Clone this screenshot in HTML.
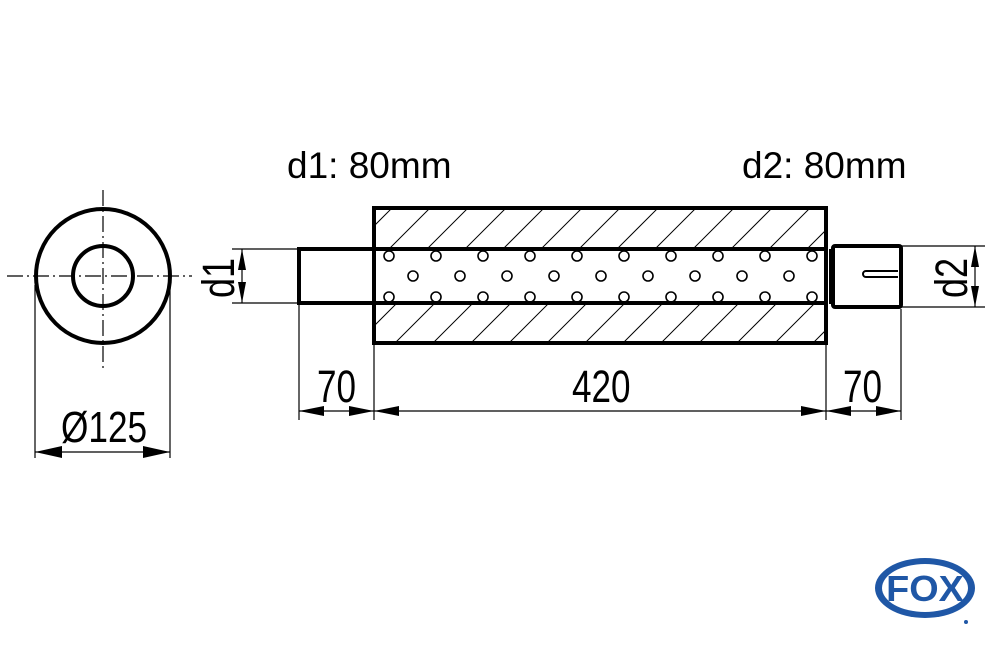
<!DOCTYPE html>
<html><head><meta charset="utf-8"><style>
html,body{margin:0;padding:0;background:#fff;}
svg{display:block;}
</style></head><body>
<svg width="1000" height="645" viewBox="0 0 1000 645" xmlns="http://www.w3.org/2000/svg" font-family="Liberation Sans, Arial, sans-serif">
<defs>
<clipPath id="ht"><rect x="376" y="210" width="448" height="38"/></clipPath>
<clipPath id="hb"><rect x="376" y="305" width="448" height="36"/></clipPath>
</defs>
<g fill="none" stroke="#000">
<circle cx="103" cy="276" r="67" stroke-width="4"/>
<circle cx="103" cy="276" r="30" stroke-width="4"/>
<line x1="7" y1="276" x2="192" y2="276" stroke-width="1.2" stroke-dasharray="16,4,2,4"/>
<line x1="103" y1="190" x2="103" y2="370" stroke-width="1.2" stroke-dasharray="16,4,2,4"/>
<line x1="35" y1="285" x2="35" y2="458" stroke-width="1.2"/>
<line x1="170" y1="285" x2="170" y2="458" stroke-width="1.2"/>
<line x1="35" y1="452" x2="170" y2="452" stroke-width="1.2"/>
</g>
<polygon points="35,452 62,446 62,458" fill="#000"/>
<polygon points="170,452 143,446 143,458" fill="#000"/>
<text transform="translate(61,442) scale(0.8,1)" font-size="44">Ø125</text>

<g stroke="#000" stroke-width="1" clip-path="url(#ht)">
<path d="M340,260 L400,200 M378,260 L438,200 M416,260 L476,200 M454,260 L514,200 M492,260 L552,200 M530,260 L590,200 M568,260 L628,200 M606,260 L666,200 M644,260 L704,200 M682,260 L742,200 M720,260 L780,200 M758,260 L818,200 M796,260 L856,200"/>
</g>
<g stroke="#000" stroke-width="1" clip-path="url(#hb)">
<path d="M340,360 L400,300 M378,360 L438,300 M416,360 L476,300 M454,360 L514,300 M492,360 L552,300 M530,360 L590,300 M568,360 L628,300 M606,360 L666,300 M644,360 L704,300 M682,360 L742,300 M720,360 L780,300 M758,360 L818,300 M796,360 L856,300"/>
</g>

<g fill="none" stroke="#000" stroke-width="4">
<rect x="374" y="208" width="452" height="135"/>
<line x1="374" y1="249" x2="826" y2="249"/>
<line x1="374" y1="303" x2="826" y2="303"/>
<rect x="299" y="249" width="75" height="54"/>
<rect x="833" y="246" width="68" height="61" rx="2"/>
</g>
<rect x="829" y="249" width="5" height="55" fill="#000"/>
<path d="M898,271 L866,271 A3,3 0 0 0 866,277 L898,277" fill="none" stroke="#000" stroke-width="2"/>

<g fill="none" stroke="#000" stroke-width="1.6">
<circle cx="389" cy="256" r="5"/><circle cx="436" cy="256" r="5"/><circle cx="483" cy="256" r="5"/><circle cx="530" cy="256" r="5"/><circle cx="577" cy="256" r="5"/><circle cx="624" cy="256" r="5"/><circle cx="671" cy="256" r="5"/><circle cx="718" cy="256" r="5"/><circle cx="765" cy="256" r="5"/><circle cx="812" cy="256" r="5"/>
<circle cx="413" cy="276" r="5"/><circle cx="460" cy="276" r="5"/><circle cx="507" cy="276" r="5"/><circle cx="554" cy="276" r="5"/><circle cx="601" cy="276" r="5"/><circle cx="648" cy="276" r="5"/><circle cx="695" cy="276" r="5"/><circle cx="742" cy="276" r="5"/><circle cx="789" cy="276" r="5"/>
<circle cx="389" cy="297" r="5"/><circle cx="436" cy="297" r="5"/><circle cx="483" cy="297" r="5"/><circle cx="530" cy="297" r="5"/><circle cx="577" cy="297" r="5"/><circle cx="624" cy="297" r="5"/><circle cx="671" cy="297" r="5"/><circle cx="718" cy="297" r="5"/><circle cx="765" cy="297" r="5"/><circle cx="812" cy="297" r="5"/>
</g>

<g stroke="#000" stroke-width="1.2" fill="none">
<line x1="299" y1="305" x2="299" y2="420"/>
<line x1="374" y1="345" x2="374" y2="420"/>
<line x1="826" y1="345" x2="826" y2="420"/>
<line x1="901" y1="309" x2="901" y2="420"/>
<line x1="299" y1="411" x2="374" y2="411"/>
<line x1="374" y1="411" x2="826" y2="411"/>
<line x1="826" y1="411" x2="901" y2="411"/>
<line x1="232" y1="249" x2="299" y2="249"/>
<line x1="232" y1="303" x2="299" y2="303"/>
<line x1="242" y1="249" x2="242" y2="303"/>
<line x1="901" y1="246" x2="985" y2="246"/>
<line x1="901" y1="307" x2="985" y2="307"/>
<line x1="975" y1="246" x2="975" y2="307"/>
</g>
<g fill="#000">
<polygon points="299,411 324,406 324,416"/><polygon points="374,411 349,406 349,416"/>
<polygon points="374,411 399,406 399,416"/><polygon points="826,411 801,406 801,416"/>
<polygon points="826,411 851,406 851,416"/><polygon points="901,411 876,406 876,416"/>
<polygon points="242,249 238,270 246,270"/><polygon points="242,303 238,282 246,282"/>
<polygon points="975,246 971,267 979,267"/><polygon points="975,307 971,286 979,286"/>
</g>
<g font-size="45">
<text transform="translate(317,402) scale(0.78,1)">70</text>
<text transform="translate(572,402) scale(0.78,1)">420</text>
<text transform="translate(843,402) scale(0.78,1)">70</text>
<text transform="translate(234,298) rotate(-90) scale(0.8,1)">d1</text>
<text transform="translate(967,298) rotate(-90) scale(0.8,1)">d2</text>
</g>
<text x="287" y="178" font-size="37">d1: 80mm</text>
<text x="742" y="178" font-size="37">d2: 80mm</text>

<ellipse cx="925" cy="588" rx="50" ry="30" fill="#1f57a6"/>
<ellipse cx="925" cy="588" rx="43" ry="24" fill="#fff"/>
<text transform="translate(925,601) scale(1.05,1)" font-size="36" font-weight="bold" fill="#1f57a6" text-anchor="middle">FOX</text>
<circle cx="966" cy="622" r="2" fill="#1f57a6"/>
</svg>
</body></html>
